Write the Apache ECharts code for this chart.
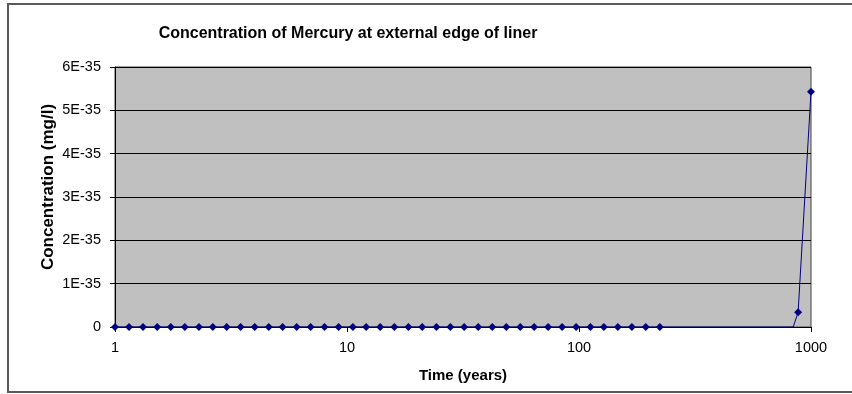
<!DOCTYPE html>
<html>
<head>
<meta charset="utf-8">
<script src="https://cdn.jsdelivr.net/npm/echarts@6/dist/echarts.min.js"></script>
<style>
html,body{margin:0;padding:0;background:#fff;}
#chart{width:852px;height:394px;}
</style>
</head>
<body>
<div id="chart"></div>
<script>
// Time (years)
var times = [1, 1.15, 1.32, 1.52, 1.74, 2.0, 2.3, 2.64, 3.03, 3.48,
             4.0, 4.6, 5.28, 6.07, 6.97, 8.0, 9.2, 10.6, 12.1, 13.9,
             16.0, 18.4, 21.1, 24.3, 27.9, 32.0, 36.8, 42.3, 48.6, 55.8,
             64.1, 73.6, 84.6, 97.2, 112, 128, 147, 169, 194, 223,
             838, 880, 1000];
// Concentration, in units of 1E-35 mg/l
var concE35 = [0, 0, 0, 0, 0, 0, 0, 0, 0, 0,
               0, 0, 0, 0, 0, 0, 0, 0, 0, 0,
               0, 0, 0, 0, 0, 0, 0, 0, 0, 0,
               0, 0, 0, 0, 0, 0, 0, 0, 0, 0,
               0, 0.34, 5.43];
// points drawn without a marker
var hiddenMarker = [40];
var yTickLabels = ['0', '1E-35', '2E-35', '3E-35', '4E-35', '5E-35', '6E-35'];

var chart = echarts.init(document.getElementById('chart'));
var seriesData = times.map(function (t, i) {
  var item = { value: [t, concE35[i]] };
  if (hiddenMarker.indexOf(i) >= 0) item.symbol = 'none';
  return item;
});
var font = 'Liberation Sans, Arial, sans-serif';
chart.setOption({
  animation: false,
  backgroundColor: '#fff',
  title: {
    text: 'Concentration of Mercury at external edge of liner',
    left: 343, top: 21, textAlign: 'center',
    textStyle: { fontFamily: font, fontSize: 16, fontWeight: 'bold', color: '#000' }
  },
  graphic: [{
    type: 'rect', silent: true,
    shape: { x: 8, y: 4, width: 900, height: 388 },
    style: { fill: 'none', stroke: '#5a5a5a', lineWidth: 2 }
  }],
  grid: {
    left: 115, right: 41, top: 67, bottom: 67,
    show: true, backgroundColor: '#C0C0C0', borderColor: '#444', borderWidth: 1
  },
  xAxis: {
    type: 'log', logBase: 10, min: 1, max: 1000,
    name: 'Time (years)', nameLocation: 'middle', nameGap: 41,
    nameTextStyle: { fontFamily: font, fontSize: 15, fontWeight: 'bold', color: '#000' },
    axisLine: { show: true, lineStyle: { color: '#000', width: 1 } },
    axisTick: { show: true, inside: false, length: 5, lineStyle: { color: '#000' } },
    minorTick: { show: false },
    splitLine: { show: false },
    axisLabel: { fontFamily: font, fontSize: 14.5, color: '#000', margin: 13,
      formatter: function (v) { return String(Math.round(v)); } }
  },
  yAxis: {
    type: 'value', min: 0, max: 6, interval: 1,
    name: 'Concentration (mg/l)', nameLocation: 'middle', nameGap: 58, nameRotate: 90,
    nameMoveOverlap: false,
    nameTextStyle: { fontFamily: font, fontSize: 17, fontWeight: 'bold', color: '#000', padding: [0, 0, 0, 20] },
    axisLine: { show: true, lineStyle: { color: '#000', width: 1 } },
    axisTick: { show: true, length: 5, lineStyle: { color: '#000' } },
    splitLine: { show: true, lineStyle: { color: '#000', width: 1 } },
    axisLabel: { fontFamily: font, fontSize: 14.5, color: '#000', margin: 14,
      formatter: function (v) { return yTickLabels[Math.round(v)]; } }
  },
  series: [{
    type: 'line',
    data: seriesData,
    symbol: 'diamond', symbolSize: 8,
    lineStyle: { color: '#000080', width: 1 },
    itemStyle: { color: '#000080' },
    clip: false
  }]
});
</script>
</body>
</html>
